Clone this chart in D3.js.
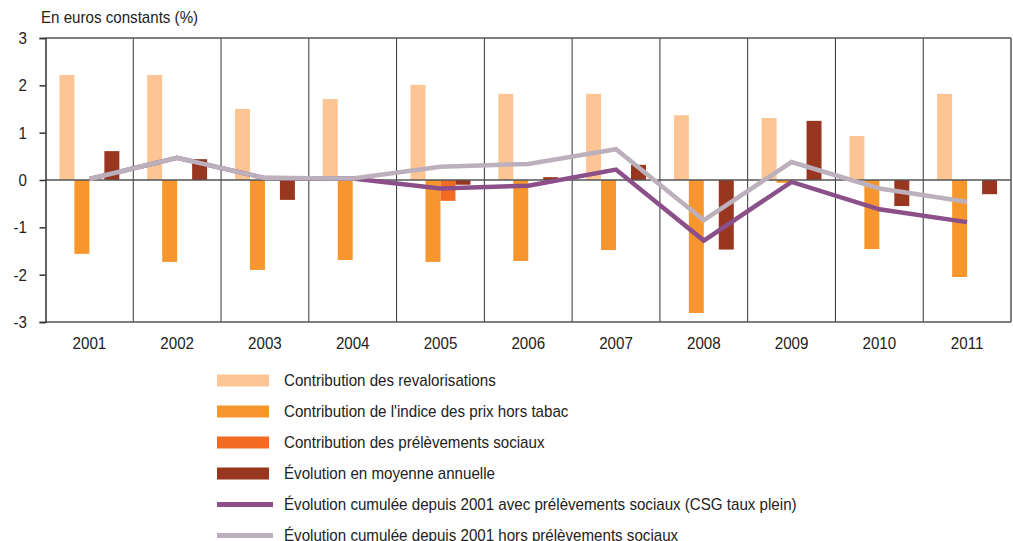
<!DOCTYPE html>
<html>
<head>
<meta charset="utf-8">
<script src="https://cdn.jsdelivr.net/npm/d3@7"></script>
<style>
  body { margin: 0; background: #fff; }
  text { font-family: "Liberation Sans Narrow", "Arial Narrow", "Liberation Sans", sans-serif; fill: #222; }
</style>
</head>
<body>
<div id="chart"></div>
<script>
// Data
const years = ["2001", "2002", "2003", "2004", "2005", "2006", "2007", "2008", "2009", "2010", "2011"]
const revalorisations = [2.22, 2.22, 1.50, 1.71, 2.01, 1.82, 1.82, 1.37, 1.31, 0.93, 1.82]
const indicePrix = [-1.56, -1.73, -1.90, -1.69, -1.73, -1.71, -1.48, -2.81, -0.06, -1.46, -2.05]
const prelevements = [0, 0, 0, 0, -0.44, 0, 0, 0, 0, 0, 0]
const moyenneAnnuelle = [0.61, 0.44, -0.42, 0.01, -0.10, 0.06, 0.32, -1.47, 1.25, -0.55, -0.30]
const cumulAvec = [0.02, 0.47, 0.04, 0.03, -0.18, -0.12, 0.22, -1.28, -0.04, -0.62, -0.89]
const cumulHors = [0.02, 0.47, 0.04, 0.03, 0.28, 0.34, 0.65, -0.85, 0.38, -0.18, -0.46]
const yTicks = [-3, -2, -1, 0, 1, 2, 3]

const barSeries = [
    { name: "Contribution des revalorisations", values: revalorisations, color: "#fdc593" },
    { name: "Contribution de l'indice des prix hors tabac", values: indicePrix, color: "#f7962d" },
    { name: "Contribution des prélèvements sociaux", values: prelevements, color: "#f26b21" },
    { name: "Évolution en moyenne annuelle", values: moyenneAnnuelle, color: "#983620" }
]
const lineSeries = [
    { name: "Évolution cumulée depuis 2001 avec prélèvements sociaux (CSG taux plein)", values: cumulAvec, color: "#8b4f8a" },
    { name: "Évolution cumulée depuis 2001 hors prélèvements sociaux", values: cumulHors, color: "#bdb0bd" }
]

const width = 1013, height = 541
const plot = { left: 45.5, right: 1011, top: 38, bottom: 322 }
const narrow = 0.89 // horizontal squeeze to mimic a narrow font

const svg = d3.select("#chart").append("svg")
    .attr("width", width)
    .attr("height", height)

// helper: text placed at (x, y), squeezed horizontally
function addText(parent, tx, ty, str, size, anchor) {
    return parent.append("text")
        .attr("transform", `translate(${tx},${ty}) scale(${narrow},1)`)
        .attr("text-anchor", anchor || "start")
        .style("font-size", size + "px")
        .text(str)
}

// scales
const x = d3.scaleBand()
    .domain(years)
    .range([plot.left, plot.right])
    .padding(0)

const xInner = d3.scaleBand()
    .domain(d3.range(barSeries.length))
    .range([0, x.bandwidth()])
    .paddingInner(0)
    .paddingOuter(0.93)

const y = d3.scaleLinear()
    .domain([-3, 3])
    .range([plot.bottom, plot.top])

// title
addText(svg, 41, 23, "En euros constants (%)", 17)

// vertical separators between years
svg.append("g")
    .selectAll("line")
    .data(years.slice(1))
    .join("line")
    .attr("x1", d => x(d))
    .attr("x2", d => x(d))
    .attr("y1", plot.top)
    .attr("y2", plot.bottom)
    .attr("stroke", "#333")
    .attr("stroke-width", 1)

// right border
svg.append("line")
    .attr("x1", plot.right).attr("x2", plot.right)
    .attr("y1", plot.top).attr("y2", plot.bottom)
    .attr("stroke", "#555").attr("stroke-width", 1.5)

// top and bottom borders
svg.selectAll(".hb")
    .data([plot.top, plot.bottom])
    .join("line")
    .attr("class", "hb")
    .attr("x1", plot.left).attr("x2", plot.right)
    .attr("y1", d => d).attr("y2", d => d)
    .attr("stroke", "#555").attr("stroke-width", 1.5)

// bars
barSeries.forEach(function (s, i) {
    svg.append("g")
        .selectAll("rect")
        .data(s.values)
        .join("rect")
        .attr("x", (d, j) => x(years[j]) + xInner(i))
        .attr("width", xInner.bandwidth())
        .attr("y", d => y(Math.max(0, d)))
        .attr("height", d => Math.abs(y(d) - y(0)))
        .attr("fill", s.color)
})

// zero line
svg.append("line")
    .attr("x1", plot.left).attr("x2", plot.right)
    .attr("y1", y(0)).attr("y2", y(0))
    .attr("stroke", "#555").attr("stroke-width", 1.5)

// lines (purple first, grey on top)
const line = d3.line()
    .x((d, j) => x(years[j]) + x.bandwidth() / 2)
    .y(d => y(d))

lineSeries.forEach(function (s) {
    svg.append("path")
        .datum(s.values)
        .attr("d", line)
        .attr("fill", "none")
        .attr("stroke", s.color)
        .attr("stroke-width", 4.5)
})

// y axis
const yAxis = svg.append("g")
    .attr("transform", `translate(${plot.left},0)`)
    .call(d3.axisLeft(y).tickValues(yTicks).tickSize(6).tickFormat(""))
yAxis.select(".domain").attr("stroke", "#333").attr("stroke-width", 1.5)
yAxis.selectAll(".tick line").attr("stroke", "#333").attr("stroke-width", 1.5)

const yLabels = svg.append("g")
yTicks.forEach(function (t) {
    addText(yLabels, 27, y(t) + 6, String(t), 17, "end")
})

// x labels
const xLabels = svg.append("g")
years.forEach(function (yr) {
    addText(xLabels, x(yr) + x.bandwidth() / 2, 349, yr, 17, "middle")
})

// legend
const legend = svg.append("g")
const rowY = d => 380.5 + d * 31

barSeries.forEach(function (s, i) {
    legend.append("rect")
        .attr("x", 217)
        .attr("y", rowY(i) - 6)
        .attr("width", 52)
        .attr("height", 12)
        .attr("fill", s.color)
    addText(legend, 284, rowY(i) + 5, s.name, 17)
})
lineSeries.forEach(function (s, k) {
    const i = barSeries.length + k
    legend.append("line")
        .attr("x1", 217).attr("x2", 273)
        .attr("y1", rowY(i)).attr("y2", rowY(i))
        .attr("stroke", s.color)
        .attr("stroke-width", 5)
    addText(legend, 284, rowY(i) + 5, s.name, 17)
})
</script>
</body>
</html>
